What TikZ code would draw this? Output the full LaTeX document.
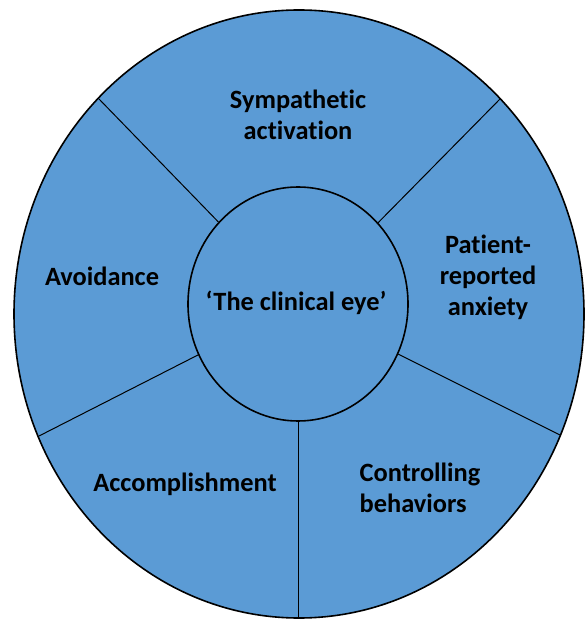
\documentclass[tikz,border=0pt]{standalone}
\usepackage{fontspec}
\setmainfont{Carlito}[Ligatures={NoCommon,TeX}]
\usetikzlibrary{shapes.geometric}
\definecolor{ringblue}{HTML}{5B9BD5}
\begin{document}
\begin{tikzpicture}[x=0.5pt,y=-0.5pt,
  ring/.style={ellipse, draw=black, fill=ringblue, inner sep=0pt},
  divider/.style={draw=black, line width=0.5pt},
  label/.style={font=\fontsize{13.2}{15.5}\selectfont\bfseries, text=black, align=center, inner sep=0pt}]
  \useasboundingbox (0,0) rectangle (584,619);
  % outer ring
  \node[ring, line width=0.8pt, minimum width=285pt, minimum height=304pt] (outer) at (299,314) {};
  % rim points where the dividers end
  \coordinate (o1) at (99,99);
  \coordinate (o2) at (500,99);
  \coordinate (o3) at (39,436);
  \coordinate (o4) at (560,435);
  \coordinate (o5) at (298,618);
  % central circle
  \node[ring, line width=0.8pt, minimum width=110pt, minimum height=117pt] (inner) at (298,304) {};
  \draw[divider] (inner) -- (o1);
  \draw[divider] (inner) -- (o2);
  \draw[divider] (inner) -- (o3);
  \draw[divider] (inner) -- (o4);
  \draw[divider] (inner) -- (o5);
  % labels
  \node[label] (eye) at (296,303) {‘The clinical eye’};
  \node[label] (symp) at (298,115) {Sympathetic\\activation};
  \node[label] (avoid) at (102,276) {Avoidance};
  \node[label] (patient) at (488,277) {Patient-\\reported\\anxiety};
  \node[label] (accomp) at (185,484) {Accomplishment};
  \node[label, align=left] (ctrl) at (420,488) {Controlling\\behaviors};
\end{tikzpicture}
\end{document}
